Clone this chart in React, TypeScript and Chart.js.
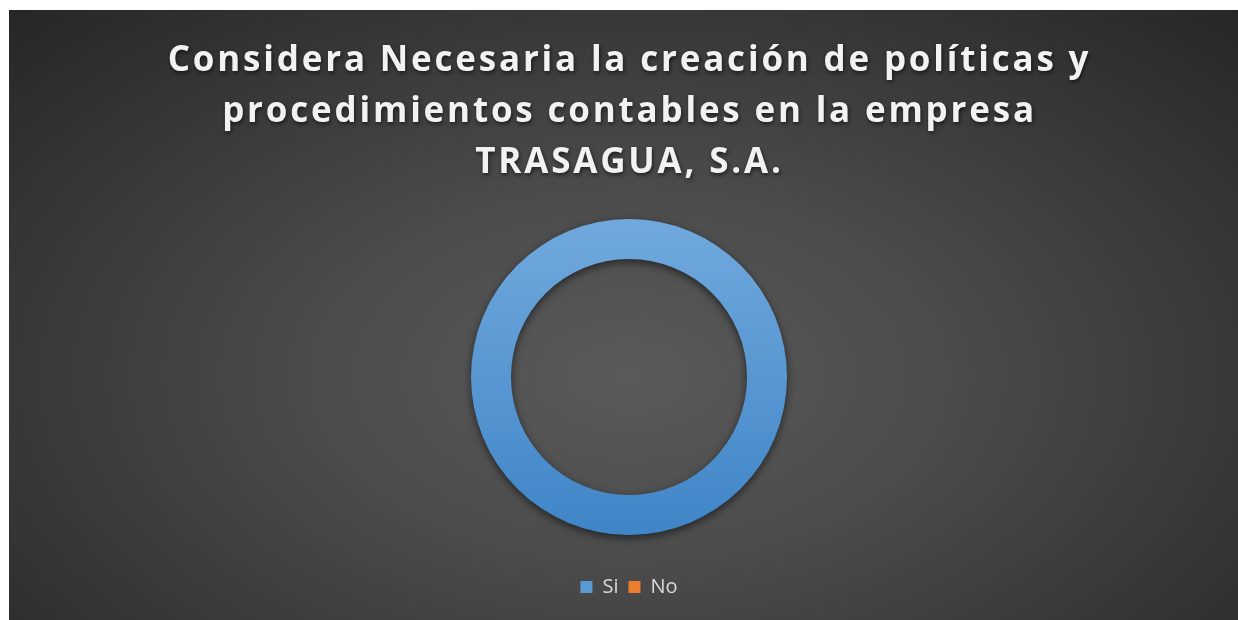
import React, { useEffect, useRef } from 'react';
import { Chart, registerables } from 'chart.js';

Chart.register(...registerables);

const categories = ['Si', 'No'];
const values = [100, 0];
const legendColors = ['#5b9bd5', '#ed7d31'];
const titleLines = [
  'Considera Necesaria la creación de políticas y',
  'procedimientos contables en la empresa',
  'TRASAGUA, S.A.',
];

const titlePlugin = {
  id: 'customTitle',
  afterDraw(chart: any) {
    const ctx = chart.ctx as CanvasRenderingContext2D;
    ctx.save();
    ctx.font = 'bold 35px "Open Sans"';
    (ctx as any).letterSpacing = '2.8px';
    ctx.textAlign = 'center';
    ctx.textBaseline = 'alphabetic';
    ctx.fillStyle = '#f2f2f2';
    ctx.shadowColor = 'rgba(0,0,0,0.6)';
    ctx.shadowBlur = 4;
    ctx.shadowOffsetX = 1;
    ctx.shadowOffsetY = 2;
    const cx = chart.width / 2 + 6;
    titleLines.forEach((line, i) => {
      ctx.fillText(line, cx, 61 + i * 51);
    });
    ctx.restore();
  },
};

const shadowPlugin = {
  id: 'ringShadow',
  beforeDatasetsDraw(chart: any) {
    const ctx = chart.ctx as CanvasRenderingContext2D;
    ctx.save();
    ctx.shadowColor = 'rgba(0,0,0,0.55)';
    ctx.shadowBlur = 8;
    ctx.shadowOffsetY = 3;
  },
  afterDatasetsDraw(chart: any) {
    chart.ctx.restore();
  },
};

export default function App() {
  const ref = useRef<HTMLCanvasElement | null>(null);

  useEffect(() => {
    if (!ref.current) return;
    const chart = new Chart(ref.current, {
      type: 'doughnut',
      data: {
        labels: categories,
        datasets: [
          {
            data: values,
            borderWidth: 0,
            radius: 158,
            backgroundColor: (c: any) => {
              const ch = c.chart;
              const area = ch.chartArea;
              if (c.dataIndex === 1) return legendColors[1];
              if (!area) return legendColors[0];
              const cy = (area.top + area.bottom) / 2;
              const g = ch.ctx.createLinearGradient(0, cy - 158, 0, cy + 158);
              g.addColorStop(0, '#71a9dd');
              g.addColorStop(1, '#3f85c7');
              return g;
            },
          },
        ],
      },
      options: {
        responsive: false,
        animation: false,
        cutout: '74.7%',
        layout: { padding: { top: 177, left: 11, right: 0, bottom: 13 } },
        plugins: {
          title: { display: false },
          tooltip: { enabled: false },
          legend: {
            display: true,
            position: 'bottom',
            labels: {
              boxWidth: 12,
              boxHeight: 12,
              padding: 10,
              color: '#d9d9d9',
              font: { size: 20, family: '"Open Sans"' },
              generateLabels: (ch: any) => {
                const items = Chart.overrides.doughnut.plugins.legend.labels.generateLabels(ch);
                return items.map((it: any, i: number) => ({
                  ...it,
                  fillStyle: legendColors[i],
                  strokeStyle: legendColors[i],
                  lineWidth: 0,
                  hidden: false,
                  fontColor: '#d9d9d9',
                }));
              },
            },
          },
        },
      },
      plugins: [shadowPlugin, titlePlugin],
    });
    return () => chart.destroy();
  }, []);

  return (
    <div
      style={{
        position: 'absolute',
        left: 9,
        top: 10,
        width: 1229,
        height: 610,
        background:
          'radial-gradient(ellipse farthest-corner at 50.5% 60%, #5a5a5a 0%, #4c4c4c 35%, #262626 100%)',
      }}
    >
      <canvas ref={ref} width={1229} height={610} style={{ display: 'block' }} />
    </div>
  );
}
